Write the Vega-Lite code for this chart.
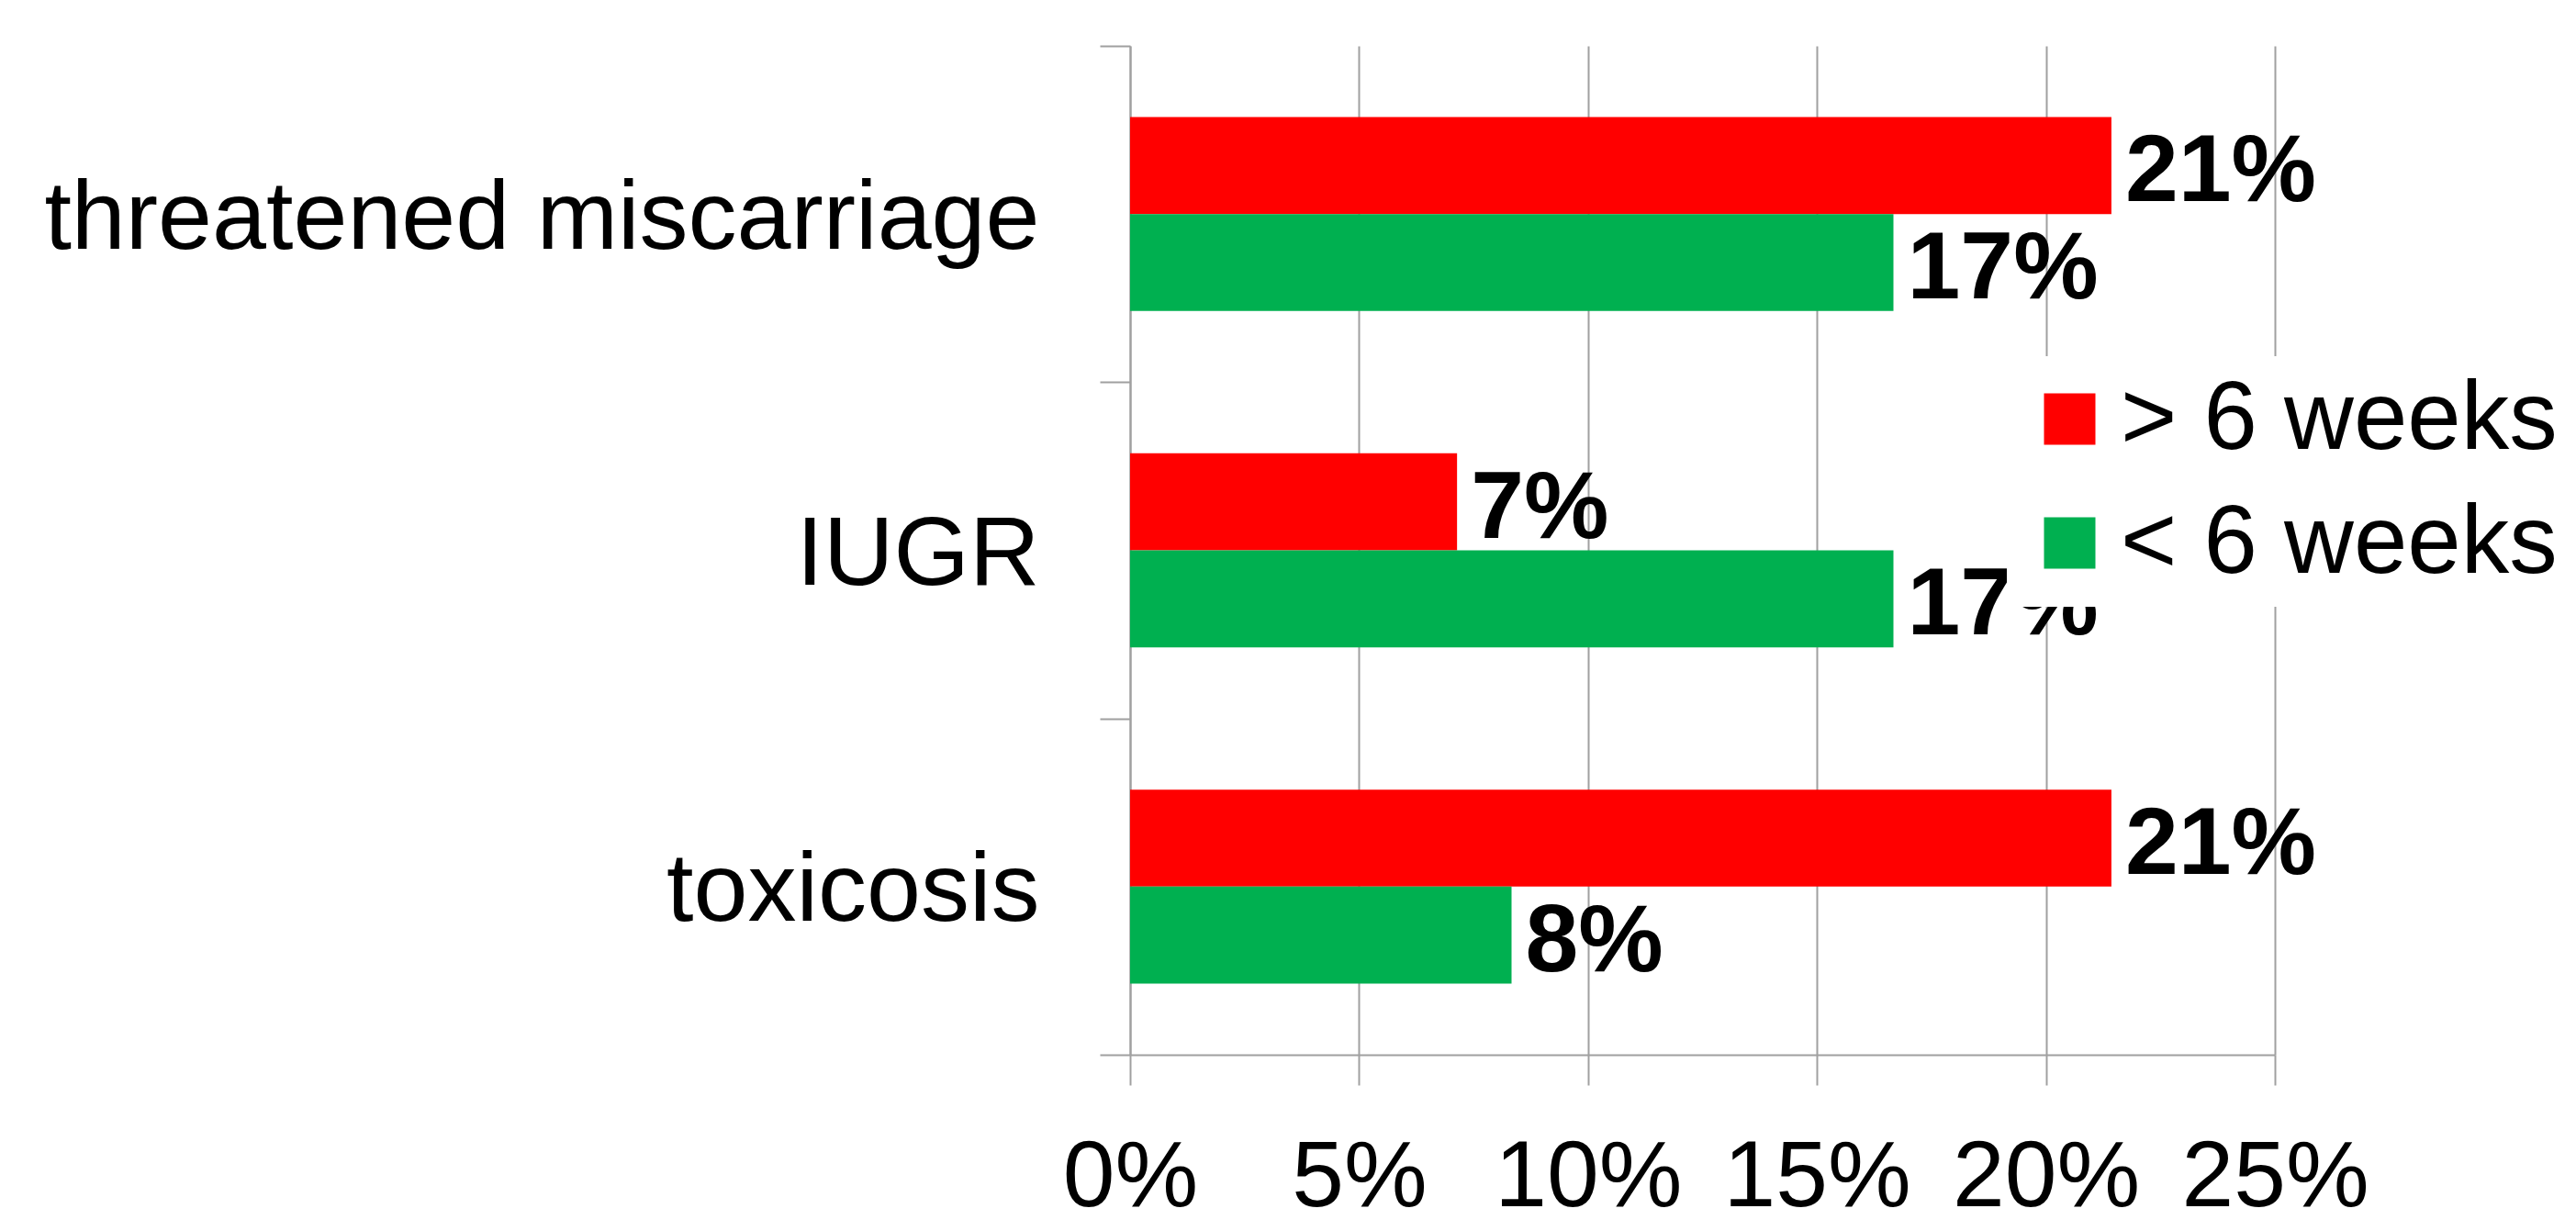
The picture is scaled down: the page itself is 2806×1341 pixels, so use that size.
{
  "$schema": "https://vega.github.io/schema/vega-lite/v6.json",
  "width": 1247,
  "height": 1099,
  "autosize": "none",
  "padding": {"left": 1231, "top": 50, "right": 328, "bottom": 192},
  "background": "white",
  "config": {"view": {"stroke": null}, "font": "Liberation Sans"},
  "data": {
    "values": [
      {"category": "threatened miscarriage", "group": "> 6 weeks", "value": 0.2143},
      {"category": "threatened miscarriage", "group": "< 6 weeks", "value": 0.1667},
      {"category": "IUGR", "group": "> 6 weeks", "value": 0.0714},
      {"category": "IUGR", "group": "< 6 weeks", "value": 0.1667},
      {"category": "toxicosis", "group": "> 6 weeks", "value": 0.2143},
      {"category": "toxicosis", "group": "< 6 weeks", "value": 0.0833}
    ]
  },
  "encoding": {
    "y": {
      "field": "category",
      "type": "nominal",
      "sort": ["threatened miscarriage", "IUGR", "toxicosis"],
      "scale": {"paddingInner": 0, "paddingOuter": 0},
      "axis": {
        "title": null,
        "tickBand": "extent",
        "domainColor": "#A0A0A0",
        "domainWidth": 2,
        "tickColor": "#A0A0A0",
        "tickWidth": 2,
        "tickSize": 33,
        "labelFontSize": 106,
        "labelColor": "black",
        "labelPadding": 66,
        "labelLimit": 0,
        "labelOffset": 5,
        "grid": false
      }
    },
    "yOffset": {
      "field": "group",
      "sort": ["> 6 weeks", "< 6 weeks"],
      "scale": {"paddingOuter": 0.733, "paddingInner": 0}
    },
    "x": {
      "field": "value",
      "type": "quantitative",
      "scale": {"domain": [0, 0.25], "nice": false},
      "axis": {
        "title": null,
        "values": [0, 0.05, 0.1, 0.15, 0.2, 0.25],
        "format": ".0%",
        "grid": true,
        "gridColor": "#A0A0A0",
        "gridWidth": 2,
        "domainColor": "#A0A0A0",
        "domainWidth": 2,
        "tickColor": "#A0A0A0",
        "tickWidth": 2,
        "tickSize": 33,
        "labelFontSize": 102,
        "labelColor": "black",
        "labelPadding": 50,
        "labelLimit": 0,
        "labelFlush": false,
        "labelOverlap": false,
        "labelBound": false
      }
    }
  },
  "layer": [
    {
      "mark": {"type": "bar"},
      "encoding": {
        "color": {
          "field": "group",
          "type": "nominal",
          "scale": {"domain": ["> 6 weeks", "< 6 weeks"], "range": ["#FF0000", "#00B050"]},
          "legend": {
            "orient": "none",
            "legendX": 955,
            "legendY": 338,
            "fillColor": "white",
            "padding": 16,
            "title": null,
            "symbolType": "square",
            "symbolSize": 3136,
            "symbolStrokeWidth": 0,
            "labelFontSize": 105,
            "labelColor": "black",
            "labelOffset": 3,
            "labelLimit": 0,
            "rowPadding": 29
          }
        }
      }
    },
    {
      "mark": {
        "type": "text",
        "align": "left",
        "baseline": "middle",
        "dx": 15,
        "dy": 8,
        "fontWeight": "bold",
        "fontSize": 104,
        "color": "black"
      },
      "encoding": {
        "text": {"field": "value", "type": "quantitative", "format": ".0%"}
      }
    }
  ]
}
